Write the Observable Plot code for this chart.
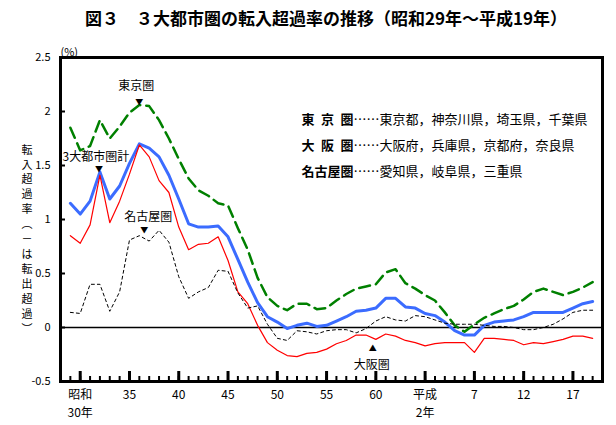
<!DOCTYPE html>
<html><head><meta charset="utf-8">
<script src="https://cdn.jsdelivr.net/npm/d3@7"></script>
<script src="https://cdn.jsdelivr.net/npm/@observablehq/plot@0.6"></script>
<style>
body{margin:0;background:#fff;font-family:"Noto Sans CJK JP",sans-serif;}
#title{height:36px;line-height:36px;text-align:center;font-weight:bold;font-size:17px;padding-left:36px;width:580px;color:#000;}
#chart svg{display:block;}
</style></head><body>
<div id="title">図３　３大都市圏の転入超過率の推移（昭和29年～平成19年）</div>
<div id="chart"></div>
<script>
const years = d3.range(1954, 2008);
const tokyo = [1.85,1.64,1.68,1.92,1.75,1.86,1.99,2.06,2.05,1.92,1.75,1.56,1.38,1.27,1.22,1.15,1.13,0.92,0.72,0.46,0.28,0.20,0.16,0.22,0.22,0.17,0.18,0.25,0.31,0.36,0.38,0.40,0.51,0.54,0.41,0.36,0.30,0.25,0.14,0.02,-0.04,0.03,0.09,0.13,0.17,0.20,0.26,0.33,0.36,0.33,0.30,0.33,0.37,0.42];
const total = [1.15,1.05,1.17,1.44,1.19,1.31,1.52,1.70,1.66,1.58,1.41,1.19,0.96,0.93,0.93,0.94,0.84,0.63,0.42,0.23,0.10,0.05,-0.01,0.02,0.04,0.01,0.02,0.06,0.10,0.15,0.16,0.18,0.27,0.27,0.19,0.18,0.13,0.11,0.05,-0.03,-0.07,-0.07,0.02,0.05,0.06,0.07,0.10,0.14,0.14,0.14,0.14,0.18,0.22,0.24];
const osaka = [0.85,0.78,0.95,1.41,0.97,1.17,1.42,1.69,1.58,1.36,1.25,0.93,0.72,0.77,0.78,0.84,0.62,0.33,0.22,0.02,-0.14,-0.21,-0.26,-0.27,-0.24,-0.23,-0.20,-0.15,-0.12,-0.07,-0.07,-0.11,-0.06,-0.08,-0.12,-0.14,-0.17,-0.15,-0.14,-0.14,-0.14,-0.23,-0.10,-0.10,-0.11,-0.12,-0.16,-0.14,-0.15,-0.13,-0.11,-0.08,-0.08,-0.10];
const nagoya = [0.14,0.13,0.40,0.40,0.15,0.33,0.81,0.85,0.80,0.90,0.79,0.47,0.27,0.33,0.37,0.53,0.52,0.32,0.18,0.20,0.03,-0.10,-0.12,-0.03,-0.04,-0.06,-0.03,-0.02,-0.02,-0.05,-0.01,0.06,0.10,0.07,0.06,0.11,0.10,0.07,0.04,0.03,0.03,0.03,0.02,0.01,0.01,0.00,-0.02,-0.02,0.00,0.03,0.08,0.14,0.16,0.16];

const majorYears = [1955,1960,1965,1970,1975,1980,1985,1990,1995,2000,2005];
const xLabels1 = ["昭和","35","40","45","50","55","60","平成","7","12","17"];
const xLabels2Years = [1955,1990];
const xLabels2 = ["30年","2年"];
const yTicks = [-0.5,0,0.5,1,1.5,2,2.5];
const yTickLabels = ["-0.5","0","0.5","1","1.5","2","2.5"];
const yTitle = ["転","入","超","過","率","︵","－","は","転","出","超","過","︶"];
const legendNames = ["東\u2002京\u2002圏","大\u2002阪\u2002圏","名古屋圏"];
const legendDesc = ["……東京都，神奈川県，埼玉県，千葉県","……大阪府，兵庫県，京都府，奈良県","……愛知県，岐阜県，三重県"];

const rows = years.map((year, i) => ({year, tokyo: tokyo[i], total: total[i], osaka: osaka[i], nagoya: nagoya[i]}));
const rowOf = y => rows.find(r => r.year === y);

const W = 616, H = 389, mL = 60, mR = 14, mT = 21, mB = 44;
const frameW = W - mL - mR, frameH = H - mT - mB;
const F = "Noto Sans CJK JP";

function note(year, key, label, markChar, mdx, mdy, ldx, ldy) {
  const r = [rowOf(year)];
  return [
    Plot.text(r, {x: "year", y: key, text: () => markChar, fontSize: 8, dx: mdx, dy: mdy, fill: "black"}),
    Plot.text(r, {x: "year", y: key, text: () => label, fontSize: 12, dx: ldx, dy: ldy, fill: "black"})
  ];
}

const chart = Plot.plot({
  width: W, height: H,
  marginLeft: mL, marginRight: mR, marginTop: mT, marginBottom: mB,
  style: {fontFamily: F, fontSize: "12px", background: "white", color: "black", overflow: "visible"},
  x: {domain: [1953, 2008], axis: null},
  y: {domain: [-0.5, 2.5], axis: null},
  marks: [
    Plot.ruleY([0], {stroke: "black", strokeWidth: 1.5}),
    Plot.line(rows, {x: "year", y: "tokyo", stroke: "#008000", strokeWidth: 2.5, strokeDasharray: "11,6"}),
    Plot.line(rows, {x: "year", y: "total", stroke: "#3b6cff", strokeWidth: 3}),
    Plot.line(rows, {x: "year", y: "osaka", stroke: "#ff0000", strokeWidth: 1.2}),
    Plot.line(rows, {x: "year", y: "nagoya", stroke: "black", strokeWidth: 1, strokeDasharray: "3,3"}),
    Plot.tickX(years, {x: d => d, insetTop: frameH - 5, stroke: "black", strokeWidth: 2}),
    Plot.tickX(majorYears, {x: d => d, insetTop: frameH - 10, stroke: "black", strokeWidth: 3}),
    Plot.tickY(yTicks, {y: d => d, insetRight: frameW - 5, stroke: "black", strokeWidth: 2}),
    Plot.frame({stroke: "black", strokeWidth: 3}),
    Plot.text(yTicks, {y: d => d, frameAnchor: "left", dx: -10, textAnchor: "end", text: (d, i) => yTickLabels[i], fontSize: 11}),
    Plot.text(majorYears, {x: d => d, frameAnchor: "bottom", dy: 17, text: (d, i) => xLabels1[i], fontSize: 12}),
    Plot.text(xLabels2Years, {x: d => d, frameAnchor: "bottom", dy: 35, text: (d, i) => xLabels2[i], fontSize: 12}),
    Plot.text([yTitle.join("\n")], {frameAnchor: "left", dx: -39, dy: 19, lineHeight: 1.36, fontSize: 11}),
    Plot.text(["(%)"], {frameAnchor: "top-left", dx: 0, dy: -9, textAnchor: "start", fontSize: 11}),
    Plot.text([legendNames.join("\n")], {frameAnchor: "top-left", dx: 241, dy: 48, lineHeight: 2, textAnchor: "start", fontWeight: "bold", fontSize: 13}),
    Plot.text([legendDesc.join("\n")], {frameAnchor: "top-left", dx: 293, dy: 48, lineHeight: 2, textAnchor: "start", fontSize: 13}),
    ...note(1961, "tokyo", "東京圏", "▼", 0, -3, -3, -19),
    ...note(1957, "total", "3大都市圏計", "▼", -1, -3, -4, -15),
    ...note(1961, "nagoya", "名古屋圏", "▼", 5, -5, 9, -19),
    ...note(1985, "osaka", "大阪圏", "▲", -3, 9, -4, 26)
  ]
});
document.getElementById("chart").appendChild(chart);
</script></body></html>
